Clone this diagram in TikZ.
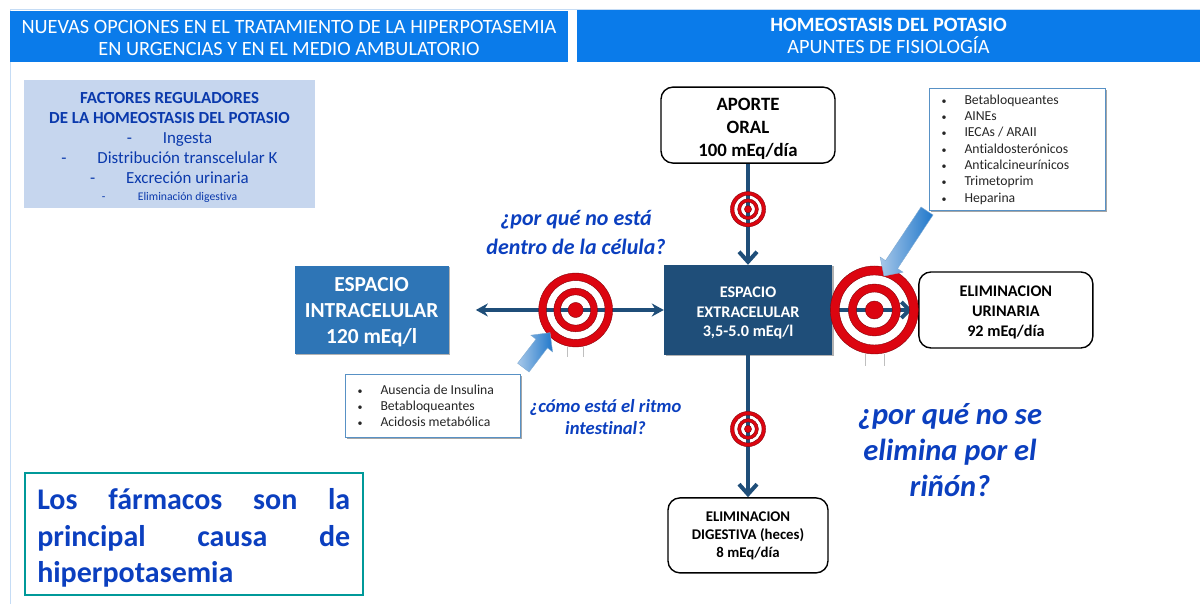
\documentclass[tikz,border=0pt]{standalone}
\usepackage{fontspec}
\setmainfont{Carlito}[Ligatures=NoCommon]
\usepackage{xcolor}
\usetikzlibrary{arrows.meta, positioning, calc, shapes.arrows, shadows}
\definecolor{cabecera}{HTML}{0A7BEA}
\definecolor{marco}{HTML}{C5DCF5}
\definecolor{oscuro}{HTML}{1F4E79}
\definecolor{medio}{HTML}{2E75B6}
\definecolor{azultexto}{HTML}{0B3FBF}
\definecolor{panel}{HTML}{C6D6EE}
\definecolor{diana}{HTML}{DC0510}
\newcommand{\fsize}[2]{\fontsize{#1}{#2}\selectfont}
\newcommand{\itm}[1]{\hspace*{4.5pt}\makebox[23pt][l]{\fsize{10}{10}\textbullet}#1}
\newcommand{\dsh}[1]{\makebox[36pt][l]{-}#1}
\newcommand{\bajar}[1]{\rule{0pt}{#1}}
\newcommand{\justa}[1]{\makebox[313pt][s]{#1}}
\tikzset{
  titulo/.style={fill=cabecera, text=white, inner sep=0pt, align=center, font=\fsize{20.3}{22}},
  caja/.style={draw=black, line width=1.4pt, rounded corners=12pt, fill=white, inner sep=0pt, align=center, font=\bfseries\fsize{16.2}{20}},
  bloque/.style={text=white, inner sep=0pt, align=center, drop shadow={shadow xshift=1.5pt, shadow yshift=-1.5pt, opacity=.3, fill=black}},
  lista/.style={draw=medio!80, line width=1pt, fill=white, inner sep=0pt, align=flush left, font=\fsize{13.7}{16.3}, text=black!85, drop shadow={shadow xshift=1.5pt, shadow yshift=-1.5pt, opacity=.35, fill=black}},
  pregunta/.style={text=azultexto, align=center, font=\bfseries\itshape},
  flujo/.style={draw=oscuro, line width=4pt},
  flecha/.style={single arrow, single arrow head extend=6.5pt, single arrow tip angle=90, minimum width=27pt, inner xsep=0pt, inner ysep=7pt, draw=medio!60, left color=marco!80!medio, right color=medio!60!cabecera},
  pics/diana/.style={code={
    \fill[diana, even odd rule, draw=diana!60!black, line width=.4pt] (0,0) circle (44) circle (35) (0,0) circle (26) circle (18) (0,0) circle (9);
  }},
  pics/patas/.style={code={
    \draw[black!25, line width=.6pt] (-9.5,-44) -- (-9.5,-56) (9.5,-44) -- (9.5,-56);
  }},
}

\begin{document}
\begin{tikzpicture}[x=1pt, y=1pt, >=Stealth]
    \useasboundingbox (0,0) rectangle (1200,604);

    % Cabeceras
    \draw[marco, line width=1pt] (10,0) -- (10,594) -- (1200,594);
    \node[titulo, minimum width=558pt, minimum height=51pt] (tituloizq) at (289,567.5) {\bajar{16pt}NUEVAS OPCIONES EN EL TRATAMIENTO DE LA HIPERPOTASEMIA\\EN URGENCIAS Y EN EL MEDIO AMBULATORIO};
    \node[titulo, minimum width=623pt, minimum height=52pt] (tituloder) at (888.5,568) {\textbf{HOMEOSTASIS DEL POTASIO}\\APUNTES DE FISIOLOGÍA};

    % Factores
    \node[fill=panel, minimum width=291pt, minimum height=128pt, inner sep=0pt, text=azultexto!90!black, align=center, font=\fsize{16.9}{20}] (factores) at (169.5,460) {\bajar{18pt}{\bfseries FACTORES REGULADORES}\\{\bfseries DE LA HOMEOSTASIS DEL POTASIO}\\\dsh{Ingesta}\\\dsh{Distribución transcelular K}\\\dsh{Excreción urinaria}\\[-3pt]{\fsize{11.7}{14}\dsh{Eliminación digestiva}\par}};

    % Balance de potasio
    \node[bloque, fill=oscuro, minimum width=168pt, minimum height=90pt, font=\bfseries\fsize{16.2}{19.5}] (extra) at (748,294) {\bajar{17pt}ESPACIO\\EXTRACELULAR\\3,5-5.0 mEq/l};
    \node[caja, above=101pt of extra, minimum width=174pt, minimum height=76pt, font=\bfseries\fsize{18.8}{23}] (aporte) {\bajar{20pt}APORTE\\ORAL\\100 mEq/día};
    \node[caja, below=142pt of extra, minimum width=160pt, minimum height=75pt, font=\bfseries\fsize{14.8}{18}] (digestiva) {ELIMINACION\\DIGESTIVA (heces)\\8 mEq/día};
    \node[bloque, fill=medio, left=215pt of extra, minimum width=154pt, minimum height=88pt, font=\bfseries\fsize{21.4}{26}] (intra) {\bajar{18pt}ESPACIO\\INTRACELULAR\\120 mEq/l};
    \node[caja, right=86pt of extra, minimum width=174pt, minimum height=76pt] (urinaria) {\bajar{16pt}ELIMINACION\\URINARIA\\92 mEq/día};

    \draw[flujo, -{Straight Barb[length=10pt, width=18pt]}] (aporte) -- (extra);
    \draw[flujo, -{Straight Barb[length=10pt, width=18pt]}] (extra) -- (digestiva);
    \draw[flujo, -{Straight Barb[length=8pt, width=16pt]}, shorten >=6pt] (extra) -- (urinaria);
    \draw[flujo, line width=3.5pt, {Stealth[length=12pt, width=13pt]}-{Stealth[length=12pt, width=13pt]}, shorten <=27pt] (intra) -- (extra);

    % Dianas
    \path (aporte.south) -- (extra.north) coordinate[pos=.45] (dianaoral);
    \path (extra.south) -- (digestiva.north) coordinate[pos=.52] (dianaheces);
    \path (intra.east) -- (extra.west) coordinate[pos=.59] (dianacel);
    \path (extra.east) -- (urinaria.west) coordinate[pos=.49] (dianarin);
    \pic[scale=.4] at (dianaoral) {diana};
    \pic[scale=.4] at (dianaheces) {diana};
    \pic[scale=.84] at (dianacel) {diana};
    \pic[scale=.84] at (dianacel) {patas};
    \pic at (dianarin) {diana};
    \pic at (dianarin) {patas};

    % Listas
    \node[lista, minimum width=176pt, minimum height=122pt, text width=161pt, anchor=north west] (farmacos) at (929,516) {\itm{Betabloqueantes}\\\itm{AINEs}\\\itm{IECAs / ARAII}\\\itm{Antialdosterónicos}\\\itm{Anticalcineurínicos}\\\itm{Trimetoprim}\\\itm{Heparina}};
    \node[lista, minimum width=175pt, minimum height=63pt, text width=160pt, anchor=north west] (causas) at (345,230) {\itm{Ausencia de Insulina}\\\itm{Betabloqueantes}\\\itm{Acidosis metabólica}};
    \node[flecha, rotate=236.5, minimum height=78pt] (flecharin) at (907.5,363.5) {};
    \node[flecha, rotate=52.6, minimum height=44pt] (flechacel) at (534.5,251) {};

    % Preguntas
    \node[pregunta, font=\bfseries\itshape\fsize{22}{29}] (preguntacel) at (576,371) {¿por qué no está\\dentro de la célula?};
    \node[pregunta, font=\bfseries\itshape\fsize{18.6}{22}] (preguntaint) at (605.5,187) {¿cómo está el ritmo\\intestinal?};
    \node[pregunta, font=\bfseries\itshape\fsize{30.5}{36}] (preguntarin) at (950,154) {¿por qué no se\\elimina por el\\riñón?};

    % Conclusion
    \node[draw=teal!80!cyan, line width=1.5pt, minimum height=122pt, minimum width=338pt, inner sep=0pt, text=azultexto, align=center, font=\bfseries\fsize{30}{36.5}, anchor=south west] (conclusion) at (24,8) {\bajar{29pt}\justa{Los fármacos son la}\\\justa{principal causa de}\\\makebox[313pt][l]{hiperpotasemia}};
\end{tikzpicture}
\end{document}
